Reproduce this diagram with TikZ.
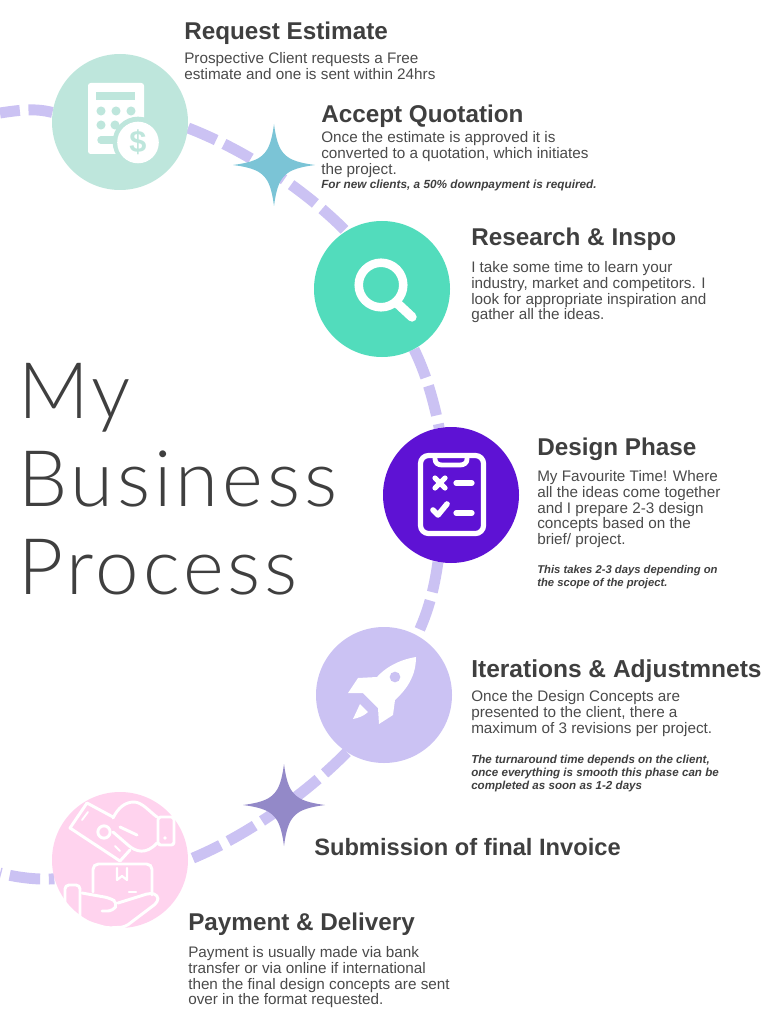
\documentclass[tikz,border=0pt]{standalone}
\usepackage{fontspec}
\setmainfont{Liberation Sans}
\newfontfamily\titlefont[LetterSpace=5]{Lato Light}
\usetikzlibrary{backgrounds}
\definecolor{ink}{HTML}{3F3F3F}
\definecolor{bodyink}{HTML}{4A4A4A}
\definecolor{dashc}{HTML}{CBC2F3}
\definecolor{mint}{HTML}{BEE6DC}
\definecolor{teal}{HTML}{52DCBC}
\definecolor{violet}{HTML}{5E12D4}
\definecolor{lilac}{HTML}{CBC2F3}
\definecolor{pink}{HTML}{FFD3EE}
\definecolor{starA}{HTML}{7BC4D6}
\definecolor{starB}{HTML}{9389C8}
\tikzset{
  x=0.75pt,y=-0.75pt,
  stepdisc/.style={circle,minimum size=102pt,inner sep=0pt,fill=#1},
  route/.style={draw=dashc,line width=8.2pt,dash pattern=on 23pt off 6.5pt},
  head/.style={anchor=north west,inner sep=0pt,text=ink,font=\fontsize{18.2pt}{20pt}\selectfont\bfseries},
  para/.style={anchor=north west,inner sep=0pt,text=bodyink,align=left,font=\fontsize{11.45pt}{11.9pt}\selectfont},
  note/.style={anchor=north west,inner sep=0pt,text=ink,align=left,font=\fontsize{#1}{9.8pt}\selectfont\bfseries\itshape},
  bigtitle/.style={anchor=north west,inner sep=0pt,text=ink,align=left,font=\fontsize{58.5pt}{66pt}\titlefont},
  iconline/.style={draw=white,line width=#1,line cap=round,line join=round},
  iconline/.default=2.2pt,
}
\newcommand{\sparkle}[3]{%
  \coordinate (#1) at (#2);
  \fill[#3] ([xshift=-30.75pt]#1) .. controls ([xshift=-8pt,yshift=3pt]#1) and ([xshift=-3pt,yshift=8pt]#1) .. ([yshift=30.75pt]#1)
    .. controls ([xshift=3pt,yshift=8pt]#1) and ([xshift=8pt,yshift=3pt]#1) .. ([xshift=30.75pt]#1)
    .. controls ([xshift=8pt,yshift=-3pt]#1) and ([xshift=3pt,yshift=-8pt]#1) .. ([yshift=-30.75pt]#1)
    .. controls ([xshift=-3pt,yshift=-8pt]#1) and ([xshift=-8pt,yshift=-3pt]#1) .. cycle;}
\begin{document}
\begin{tikzpicture}
\useasboundingbox (0,0) rectangle (768,1016);
% discs
\node[stepdisc=mint]   (n1) at (120,122) {};
\node[stepdisc=teal]   (n2) at (382,289) {};
\node[stepdisc=violet] (n3) at (451,495) {};
\node[stepdisc=lilac]  (n4) at (384,695) {};
\node[stepdisc=pink]   (n5) at (120,860) {};
\coordinate (freeA) at (0,113);
\coordinate (freeB) at (0,873);
% route
\begin{pgfonlayer}{background}
\draw[route,dash phase=8pt] (freeA) .. controls (20,110) and (35,108) .. (n1.172);
\draw[route] (n1.-5) .. controls (240,148) and (300,185) .. (n2.122);
\draw[route] (n2.-62) .. controls (424,370) and (432,393) .. (n3.100);
\draw[route] (n3.-101) .. controls (434,590) and (428,612) .. (n4.61);
\draw[route] (n4.-123) .. controls (310,790) and (250,835) .. (n5.0);
\draw[route,dash phase=22pt] (freeB) .. controls (15,877) and (35,880) .. (n5.196);
\end{pgfonlayer}
% sparkles
\sparkle{sA}{274,165}{starA}
\sparkle{sB}{284,805}{starB}
% calculator icon
\fill[white,rounded corners=2pt] (88,83) rectangle (144,154);
\fill[mint] (96,92) rectangle (135,100);
\foreach \p in {(101,111),(116,111),(131,111),(101,125),(115,125)} \fill[mint] \p circle (3.4pt);
\draw[mint,line width=5.6pt,line cap=round] (101,140) -- (118,140);
\fill[mint] (138,142) circle (19pt);
\fill[white] (138,142.5) circle (15.6pt);
\node[inner sep=0pt,text=mint,font=\fontsize{23pt}{23pt}\selectfont\bfseries] (dollar) at (138,142) {\$};
% magnifier icon
\draw[white,line width=6.4pt] (381,285) circle (16.7pt);
\draw[white,line width=7pt,line cap=round] (398,304) -- (412,317);
% clipboard icon
\draw[white,line width=3.9pt,rounded corners=6pt] (420.5,455.5) rectangle (483.5,533.5);
\draw[iconline=3.6pt] (435,456) -- (435,459) .. controls (435,463) and (438,465) .. (442,465) -- (460,465) .. controls (464,465) and (467,463) .. (467,459) -- (467,456);
\draw[iconline=3.9pt] (435,478) -- (445,488) (445,478) -- (435,488);
\draw[iconline=3.9pt] (456,483) -- (472,483);
\draw[iconline=4.2pt] (433,510) -- (438,515) -- (447,504);
\draw[iconline=3.9pt] (456,513) -- (472,513);
% rocket icon
\fill[white] (416,657) .. controls (398,660) and (385,668) .. (377,677) -- (358,678) -- (348,693) -- (363,693) -- (378,708) -- (379,724) -- (393,715) -- (395,700) .. controls (408,688) and (416,675) .. cycle;
\fill[lilac] (395,677) circle (4pt);
\fill[white] (353,719) -- (360,704) -- (368,712) .. controls (364,716) and (358,718) .. cycle;
% money hand icon
\fill[white] (62,902) -- (62,938) -- (125,938) -- (108,929) -- (82,920) -- (68,912) -- cycle;
\draw[iconline] (113,817) -- (87,803) -- (70,828) -- (120,861) -- (130,850);
\draw[iconline=1.4pt] (88,812) -- (82,820) (120,851) -- (115,846);
\draw[iconline] (104,832) circle (4.6pt);
\draw[iconline] (113,818) .. controls (118,808) and (125,802) .. (134,802) .. controls (142,802) and (150,812) .. (157,817);
\draw[iconline] (120,827) -- (137,835);
\draw[iconline] (113,832) -- (128,845) .. controls (136,852) and (146,855) .. (157,843);
\draw[iconline,rounded corners=2pt] (158,817) rectangle (174,845);
\fill[white] (165,838) circle (1.4pt);
\draw[iconline,rounded corners=4pt] (93,892) -- (93,864) -- (152,864) -- (152,895);
\draw[iconline=1.6pt] (117,868) -- (117,880) -- (122,876) -- (127,880) -- (127,868);
\draw[iconline=1.8pt] (129,892) -- (136,892);
\draw[iconline,rounded corners=3pt] (65,918) -- (65,885) -- (80,885) -- (80,920);
\draw[iconline,rounded corners=4pt] (82,893) -- (110,898) -- (118,903) -- (113,911) -- (102,911);
\draw[iconline,rounded corners=3pt] (118,903) -- (150,893) -- (158,895) -- (158,902) -- (125,927) -- (107,928) -- (80,920);
% text
\node[head] (t1) at (184,22) {Request Estimate};
\node[para] (b1) at (184,52) {Prospective Client requests a Free\\estimate and one is sent within 24hrs};
\node[head] (t2) at (321,105) {Accept Quotation};
\node[para] (b2) at (321,131) {Once the estimate is approved it is\\converted to a quotation, which initiates\\the project.};
\node[note=8.85pt] (m2) at (321,180) {For new clients, a 50\% downpayment is required.};
\node[head] (t3) at (471,228) {Research \& Inspo};
\node[para] (b3) at (471,261) {I take some time to learn your\\industry, market and competitors. I\\look for appropriate inspiration and\\gather all the ideas.};
\node[head] (t4) at (537,438) {Design Phase};
\node[para] (b4) at (537,470) {My Favourite Time! Where\\all the ideas come together\\and I prepare 2-3 design\\concepts based on the\\brief/ project.};
\node[note=8.45pt] (m4) at (537,565) {This takes 2-3 days depending on\\the scope of the project.};
\node[head,font=\fontsize{18.4pt}{20pt}\selectfont\bfseries] (t5) at (471,659) {Iterations \& Adjustmnets};
\node[para] (b5) at (471,690) {Once the Design Concepts are\\presented to the client, there a\\maximum of 3 revisions per project.};
\node[note=8.7pt] (m5) at (471,755) {The turnaround time depends on the client,\\once everything is smooth this phase can be\\completed as soon as 1-2 days};
\node[head,font=\fontsize{17.75pt}{20pt}\selectfont\bfseries] (t6) at (314,838) {Submission of final Invoice};
\node[head] (t7) at (188,913) {Payment \& Delivery};
\node[para] (b7) at (188,946) {Payment is usually made via bank\\transfer or via online if international\\then the final design concepts are sent\\over in the format requested.};
\node[bigtitle] (title) at (18,363) {My\\Business\\Process};
\end{tikzpicture}
\end{document}
